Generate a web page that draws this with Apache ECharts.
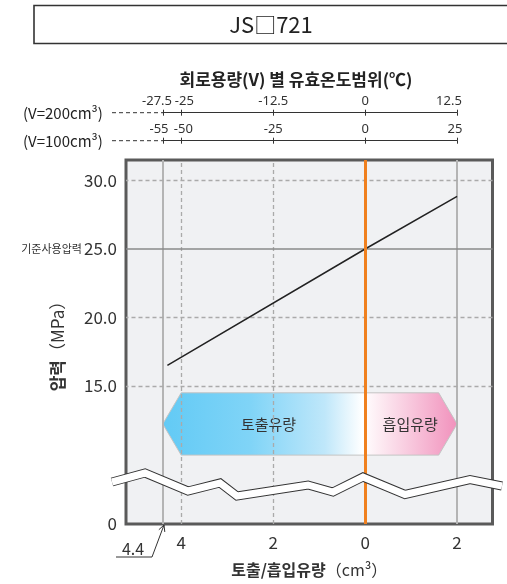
<!DOCTYPE html>
<html><head><meta charset="utf-8">
<script src="https://cdn.jsdelivr.net/npm/echarts@6/dist/echarts.min.js"></script>
<style>html,body{margin:0;padding:0;background:#fff}#c{width:507px;height:584px}</style>
</head><body><div id="c"></div>
<script>
// ---- data ----
const flowTicks = [4, 2, 0, -2];                 // x-axis ticks (discharge positive, suction negative)
const pressureTicks = [4.92, 15, 20, 25, 30];     // y-axis ticks (first one is the broken-axis "0")
const lineFlow = [4.3, 0, -2];
const linePressure = [16.5, 25, 28.85];
const temp200Ticks = [-27.5, -25, -12.5, 0, 12.5];
const temp100Ticks = [-55, -50, -25, 0, 25];
const solidVLines = [4.4, -2];
const dashedVLines = [4, 2];
const dashedHLines = [30, 20, 15];
const solidHLines = [25];
const zeroLine = [0];
const arrowX = [4.4, 4, -1.6, -2];               // left tip, left shoulder, right shoulder, right tip
const arrowY = [14.5, 9.95];                     // top, bottom
const arrowLabels = ['토출유량', '흡입유량'];
const arrowLabelX = [2.1, -0.98];

const KR = '"Noto Sans CJK KR", "Noto Sans", sans-serif';
const NARROW = '"Liberation Sans Narrow", "Noto Sans", sans-serif';
const chart = echarts.init(document.getElementById('c'));

const gridMarkLines = [];
solidVLines.forEach(v => gridMarkLines.push({xAxis: v, lineStyle: {color: '#b4b4b4', width: 2, type: 'solid'}}));
dashedVLines.forEach(v => gridMarkLines.push({xAxis: v, lineStyle: {color: '#aaaaaa', width: 1.3, type: [4, 3]}}));
dashedHLines.forEach(v => gridMarkLines.push({yAxis: v, lineStyle: {color: '#aaaaaa', width: 1.3, type: [4, 3]}}));
solidHLines.forEach(v => gridMarkLines.push({yAxis: v, lineStyle: {color: '#8a8a8a', width: 1.5, type: 'solid'}}));

const padStyles = {};
[2, 4, 6, 8, 10, 12, 16].forEach(p => {
  padStyles['l' + p] = {fontFamily: NARROW, fontSize: 13, color: '#333', padding: [0, p, 0, 0]};
  padStyles['r' + p] = {fontFamily: NARROW, fontSize: 13, color: '#333', padding: [0, 0, 0, p]};
});

function tempAxisPair(gridIndex, ticks, fmtPad) {
  const base = {
    type: 'value', gridIndex: gridIndex, min: ticks[0], max: ticks[ticks.length - 1],
    splitLine: {show: false}
  };
  return [
    Object.assign({}, base, {
      position: 'top',
      axisLine: {show: true, lineStyle: {color: '#333', width: 1}},
      axisTick: {show: true, length: 3, customValues: ticks, lineStyle: {color: '#333'}},
      axisLabel: {
        show: true, customValues: ticks, margin: 5, color: '#333', fontFamily: NARROW, fontSize: 13,
        hideOverlap: false,
        formatter: v => {
          const p = fmtPad[String(v)];
          return p ? '{' + p + '|' + v + '}' : String(v);
        },
        rich: padStyles
      }
    }),
    Object.assign({}, base, {
      position: 'bottom',
      axisLine: {show: false},
      axisTick: {show: true, length: 3, customValues: ticks, lineStyle: {color: '#333'}},
      axisLabel: {show: false}
    })
  ];
}

const xAxes = [{
  type: 'value', gridIndex: 0, inverse: true, min: -2.77, max: 5.2,
  axisLine: {show: false}, axisTick: {show: false}, splitLine: {show: false},
  axisLabel: {customValues: flowTicks, margin: 10, color: '#333', fontFamily: KR, fontSize: 17,
    formatter: v => String(Math.abs(v))},
  name: '{b|토출/흡입유량}{n|（cm³）}', nameLocation: 'middle', nameGap: 38, nameMoveOverlap: false,
  nameTextStyle: {rich: {
    b: {fontFamily: KR, fontSize: 16, fontWeight: 'bold', color: '#333'},
    n: {fontFamily: KR, fontSize: 16, color: '#333'}
  }}
}].concat(
  tempAxisPair(1, temp200Ticks, {'-27.5': 'l12', '-25': 'r6', '12.5': 'l16'}),
  tempAxisPair(2, temp100Ticks, {'-55': 'l8', '-50': 'r4', '25': 'l4'})
);

const yAxes = [{
  type: 'value', gridIndex: 0, min: 4.92, max: 31.5,
  axisLine: {show: false}, axisTick: {show: false}, splitLine: {show: false},
  axisLabel: {customValues: pressureTicks, margin: 9, color: '#333', fontFamily: KR, fontSize: 17,
    formatter: v => v < 10 ? '0' : (v === 25 ? '{s|기준사용압력}{n|25.0}' : v.toFixed(1)),
    rich: {
      s: {fontFamily: KR, fontSize: 11, color: '#333', padding: [0, 2, 0, 0]},
      n: {fontFamily: KR, fontSize: 17, color: '#333'}
    }},
  name: '{b|압력}{n|（MPa）}', nameLocation: 'middle', nameRotate: 90, nameGap: 60,
  nameMoveOverlap: false,
  nameTextStyle: {rich: {
    b: {fontFamily: KR, fontSize: 17, fontWeight: 'bold', color: '#333'},
    n: {fontFamily: KR, fontSize: 17, color: '#333'}
  }}
}, {type: 'value', gridIndex: 1, show: false}, {type: 'value', gridIndex: 2, show: false}];

function renderArrow(params, api) {
  const yM = (arrowY[0] + arrowY[1]) / 2;
  const pts = [
    [arrowX[0], yM], [arrowX[1], arrowY[0]], [arrowX[2], arrowY[0]],
    [arrowX[3], yM], [arrowX[2], arrowY[1]], [arrowX[1], arrowY[1]]
  ].map(p => api.coord(p));
  const x0 = pts[0][0], x1 = pts[3][0];
  const f = (api.coord([0, yM])[0] - x0) / (x1 - x0);
  const grad = new echarts.graphic.LinearGradient(0, 0, 1, 0, [
    {offset: 0, color: '#62caf5'},
    {offset: 0.3, color: '#80d4f7'},
    {offset: f * 0.8, color: '#bfe7fa'},
    {offset: f - 0.01, color: '#ffffff'},
    {offset: f + 0.04, color: '#fdeef4'},
    {offset: 1, color: '#f191bc'}
  ]);
  const children = [{type: 'polygon', shape: {points: pts},
    style: {fill: grad, stroke: '#c4c4c4', lineWidth: 1}}];
  arrowLabels.forEach((t, i) => {
    const c = api.coord([arrowLabelX[i], yM]);
    children.push({type: 'text', x: c[0], y: c[1],
      style: {text: t, align: 'center', verticalAlign: 'middle', fill: '#333',
        font: '15px ' + KR}});
  });
  return {type: 'group', children: children};
}

// zigzag break band (decoration, pixel coords)
const breakPts = [[112, 482], [145, 473], [188, 491], [220, 483], [237, 496], [308, 485],
  [333, 492], [363, 477], [405, 494.5], [470, 479.5], [502, 486]];

const leadArrowTip = [164, 525];
const leadArrowFrom = [152, 557];
const dx = leadArrowTip[0] - leadArrowFrom[0], dy = leadArrowTip[1] - leadArrowFrom[1];
const len = Math.hypot(dx, dy), ux = dx / len, uy = dy / len;
function rot(a) { const c = Math.cos(a), s = Math.sin(a); return [ux * c - uy * s, ux * s + uy * c]; }
const h1 = rot(Math.PI * 0.85), h2 = rot(-Math.PI * 0.85);

const option = {
  animation: false,
  backgroundColor: '#ffffff',
  grid: [
    {left: 126, top: 160, width: 366.5, height: 364, show: true, backgroundColor: '#f0f1f3',
      borderColor: '#5a5a5a', borderWidth: 3, containLabel: false, outerBoundsMode: 'none'},
    {left: 163, top: 112.7, right: 50, height: 0, containLabel: false, outerBoundsMode: 'none'},
    {left: 163, top: 140.7, right: 50, height: 0, containLabel: false, outerBoundsMode: 'none'}
  ],
  xAxis: xAxes,
  yAxis: yAxes,
  series: [
    {type: 'line', xAxisIndex: 0, yAxisIndex: 0, z: 1, data: [[0, 25]], symbol: 'none',
      lineStyle: {opacity: 0}, silent: true,
      markLine: {silent: true, symbol: 'none', label: {show: false}, data: gridMarkLines}},
    {type: 'custom', xAxisIndex: 0, yAxisIndex: 0, z: 3, clip: false, silent: true,
      data: [[0, 12]], renderItem: renderArrow},
    {type: 'line', xAxisIndex: 0, yAxisIndex: 0, z: 5, symbol: 'none', silent: true,
      data: lineFlow.map((x, i) => [x, linePressure[i]]),
      lineStyle: {color: '#222', width: 1.5},
      markLine: {silent: true, symbol: 'none', label: {show: false}, z: 6,
        data: zeroLine.map(v => ({xAxis: v, lineStyle: {color: '#f0801e', width: 3, type: 'solid'}}))}}
  ],
  graphic: [
    {type: 'rect', z: 100, shape: {x: 34, y: 5.5, width: 490, height: 38},
      style: {fill: 'none', stroke: '#333', lineWidth: 1.6}},
    {type: 'text', z: 100, x: 271, y: 25,
      style: {text: 'JS□721', align: 'center', verticalAlign: 'middle', fill: '#222',
        font: '22px ' + KR}},
    {type: 'text', z: 100, x: 296, y: 80,
      style: {text: '회로용량(V) 별 유효온도범위(℃)', align: 'center', verticalAlign: 'middle',
        fill: '#222', font: 'bold 17px ' + KR}},
    {type: 'text', z: 100, x: 23, y: 113,
      style: {text: '(V=200cm³)', align: 'left', verticalAlign: 'middle', fill: '#222',
        font: '15px ' + KR}},
    {type: 'text', z: 100, x: 23, y: 141,
      style: {text: '(V=100cm³)', align: 'left', verticalAlign: 'middle', fill: '#222',
        font: '15px ' + KR}},
    {type: 'line', z: 100, shape: {x1: 112, y1: 112.7, x2: 163, y2: 112.7},
      style: {stroke: '#333', lineWidth: 1, lineDash: [4, 3]}},
    {type: 'line', z: 100, shape: {x1: 112, y1: 140.7, x2: 163, y2: 140.7},
      style: {stroke: '#333', lineWidth: 1, lineDash: [4, 3]}},
    {type: 'polyline', z: 100, shape: {points: breakPts},
      style: {stroke: '#333', lineWidth: 9, fill: null, lineJoin: 'miter'}},
    {type: 'polyline', z: 101, shape: {points: breakPts},
      style: {stroke: '#ffffff', lineWidth: 7, fill: null, lineJoin: 'miter'}},
    {type: 'text', z: 100, x: 133, y: 549,
      style: {text: '4.4', align: 'center', verticalAlign: 'middle', fill: '#333',
        font: '16px ' + KR}},
    {type: 'polyline', z: 100, shape: {points: [[116, 557], leadArrowFrom, leadArrowTip]},
      style: {stroke: '#333', lineWidth: 1, fill: null}},
    {type: 'polyline', z: 100, shape: {points: [
      [leadArrowTip[0] + h1[0] * 7, leadArrowTip[1] + h1[1] * 7], leadArrowTip,
      [leadArrowTip[0] + h2[0] * 7, leadArrowTip[1] + h2[1] * 7]]},
      style: {stroke: '#333', lineWidth: 1, fill: null}}
  ]
};
chart.setOption(option);
</script></body></html>
